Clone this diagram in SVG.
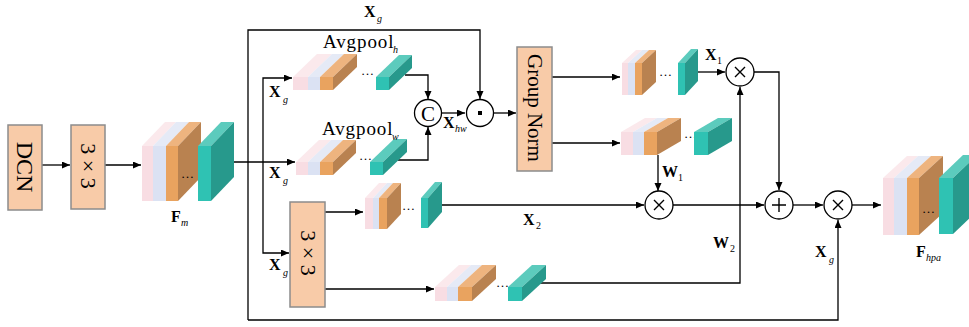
<svg xmlns="http://www.w3.org/2000/svg" width="969" height="327" viewBox="0 0 969 327">
<defs>
<marker id="ah" markerUnits="userSpaceOnUse" markerWidth="9" markerHeight="8" refX="8" refY="3.5" orient="auto">
<path d="M0,0 L8,3.5 L0,7 z" fill="#000"/>
</marker>
<style>
.pf{fill:#f8dde3}.pt{fill:#fbe9ec}
.bf{fill:#dbe2f3}.bt{fill:#e5eaf6}
.of{fill:#e9a35f}.ot{fill:#eeb47f}
.br{fill:#b98250}
.tf{fill:#2fc2b3}.tt{fill:#5ccbbd}.ts{fill:#27998c}
.box{fill:#f8cba8;stroke:#8c8c8c;stroke-width:1.5}
.ln{fill:none;stroke:#000;stroke-width:1.3}
.ar{fill:none;stroke:#000;stroke-width:1.3;marker-end:url(#ah)}
.op{fill:#fff;stroke:#000;stroke-width:1.3}
.sym{fill:none;stroke:#000;stroke-width:1.4}
.t{font-family:"Liberation Serif","Times New Roman",serif;fill:#000}
.b{font-weight:bold;font-size:16px}
.s{font-style:italic;font-size:10px}
.n{font-size:10px}
.ap{font-size:19px;letter-spacing:0.9px}
.dots{font-family:"Liberation Serif",serif;font-size:13px;fill:#000}
</style>
</defs>

<g id="connectors">
<path class="ar" d="M42,165 H70"/>
<path class="ar" d="M105,165 H141"/>
<path class="ar" d="M234,162 H295"/>
<path class="ar" d="M248,320 V30 H480 V99"/>
<path class="ar" d="M248,320 H838 V220"/>
<path class="ar" d="M263,162 V78 H292"/>
<path class="ar" d="M263,162 V253 H289"/>
<path class="ar" d="M405,75 H428 V99"/>
<path class="ar" d="M398,160 H428 V127"/>
<path class="ar" d="M441,113 H465"/>
<path class="ar" d="M493,113 H516"/>
<path class="ar" d="M552,77 H620"/>
<path class="ar" d="M552,143 H620"/>
<path class="ar" d="M698,72 H725"/>
<path class="ar" d="M658,155 V191"/>
<path class="ar" d="M442,205 H644"/>
<path class="ar" d="M673,205 H764"/>
<path class="ar" d="M754,72 H779 V190"/>
<path class="ar" d="M538,283 H740 V87"/>
<path class="ar" d="M793,205 H823"/>
<path class="ar" d="M852,205 H881"/>
<path class="ar" d="M325,212 H363"/>
<path class="ar" d="M325,289 H434"/>
</g>

<g id="dcn">
<rect class="box" x="8" y="125" width="34" height="85"/>
<text class="t" font-size="24" text-anchor="middle" transform="translate(25,167) rotate(90)" dy="8">DCN</text>
</g>

<g id="conv1">
<rect class="box" x="71" y="125" width="34" height="84"/>
<text class="t" font-size="22" text-anchor="middle" transform="translate(88,166) rotate(90)" dy="7">3 × 3</text>
</g>

<g id="fm">
<rect class="pf" x="142" y="146" width="11" height="55"/>
<rect class="bf" x="153" y="146" width="13" height="55"/>
<rect class="of" x="166" y="146" width="12" height="55"/>
<polygon class="pt" points="142,146 165,122 176,122 153,146"/>
<polygon class="bt" points="153,146 176,122 189,122 166,146"/>
<polygon class="ot" points="166,146 189,122 201,122 178,146"/>
<polygon class="br" points="178,146 201,122 201,177 178,201"/>
<rect class="tf" x="198" y="146" width="13" height="55"/>
<polygon class="tt" points="198,146 221,122 234,122 211,146"/>
<polygon class="ts" points="211,146 234,122 234,177 211,201"/>
<text class="dots" x="181" y="178">…</text>
<text class="t b" x="171" y="222">F</text><text class="t s" x="181" y="226">m</text>
</g>

<g id="avgpool-h">
<rect class="pf" x="293" y="77" width="15" height="13"/>
<rect class="bf" x="308" y="77" width="12" height="13"/>
<rect class="of" x="320" y="77" width="13" height="13"/>
<polygon class="pt" points="293,77 317,54 332,54 308,77"/>
<polygon class="bt" points="308,77 332,54 344,54 320,77"/>
<polygon class="ot" points="320,77 344,54 357,54 333,77"/>
<polygon class="br" points="333,77 357,54 357,67 333,90"/>
<text class="dots" x="361" y="75">…</text>
<rect class="tf" x="376" y="77" width="13" height="13"/>
<polygon class="tt" points="376,77 399,55 412,55 389,77"/>
<polygon class="ts" points="389,77 412,55 412,68 389,90"/>
<text class="t ap" x="323" y="48">Avgpool</text><text class="t s" x="393" y="53">h</text>
<text class="t b" x="269" y="97">X</text><text class="t s" x="283" y="103">g</text>
</g>

<g id="avgpool-w">
<rect class="pf" x="296" y="162" width="12" height="13"/>
<rect class="bf" x="308" y="162" width="12" height="13"/>
<rect class="of" x="320" y="162" width="13" height="13"/>
<polygon class="pt" points="296,162 319,140 331,140 308,162"/>
<polygon class="bt" points="308,162 331,140 343,140 320,162"/>
<polygon class="ot" points="320,162 343,140 356,140 333,162"/>
<polygon class="br" points="333,162 356,140 356,153 333,175"/>
<text class="dots" x="359" y="160">…</text>
<rect class="tf" x="370" y="162" width="13" height="13"/>
<polygon class="tt" points="370,162 394,139 407,139 383,162"/>
<polygon class="ts" points="383,162 407,139 407,152 383,175"/>
<text class="t ap" x="322" y="135">Avgpool</text><text class="t s" x="392" y="140">w</text>
<text class="t b" x="269" y="178">X</text><text class="t s" x="283" y="184">g</text>
</g>

<g id="concat">
<circle class="op" cx="428" cy="113" r="13.5"/>
<text class="t" font-size="21" text-anchor="middle" x="428" y="120.5">C</text>
<text class="t b" x="443" y="128">X</text><text class="t s" x="455" y="132">hw</text>
</g>

<g id="dot-op">
<circle class="op" cx="480" cy="113" r="13.5"/>
<rect x="478" y="111" width="4" height="4" fill="#000"/>
<text class="t b" x="364" y="17">X</text><text class="t s" x="377" y="22">g</text>
</g>

<g id="groupnorm">
<rect class="box" x="517" y="47" width="35" height="124"/>
<text class="t" font-size="21" text-anchor="middle" transform="translate(534.5,108) rotate(90)" dy="7">Group Norm</text>
</g>

<g id="x1-block">
<rect class="pf" x="622" y="63" width="6" height="32"/>
<rect class="bf" x="628" y="63" width="7" height="32"/>
<rect class="of" x="635" y="63" width="7" height="32"/>
<polygon class="pt" points="622,63 636,50 642,50 628,63"/>
<polygon class="bt" points="628,63 642,50 649,50 635,63"/>
<polygon class="ot" points="635,63 649,50 656,50 642,63"/>
<polygon class="br" points="642,63 656,50 656,82 642,95"/>
<text class="dots" x="659" y="76">…</text>
<rect class="tf" x="678" y="63" width="7" height="32"/>
<polygon class="tt" points="678,63 691,49 698,49 685,63"/>
<polygon class="ts" points="685,63 698,49 698,81 685,95"/>
<text class="t b" x="705" y="60">X</text><text class="t n" x="717" y="64">1</text>
</g>

<g id="w1-block">
<rect class="pf" x="621" y="132" width="12" height="23"/>
<rect class="bf" x="633" y="132" width="11" height="23"/>
<rect class="of" x="644" y="132" width="13" height="23"/>
<polygon class="pt" points="621,132 645,118 657,118 633,132"/>
<polygon class="bt" points="633,132 657,118 668,118 644,132"/>
<polygon class="ot" points="644,132 668,118 681,118 657,132"/>
<polygon class="br" points="657,132 681,118 681,141 657,155"/>
<text class="dots" x="684" y="138">…</text>
<rect class="tf" x="694" y="132" width="14" height="23"/>
<polygon class="tt" points="694,132 718,118 732,118 708,132"/>
<polygon class="ts" points="708,132 732,118 732,141 708,155"/>
<text class="t b" x="662" y="177">W</text><text class="t n" x="678" y="181">1</text>
</g>

<g id="mul1">
<circle class="op" cx="740" cy="72" r="14"/>
<path class="sym" d="M735,67 L745,77 M745,67 L735,77"/>
</g>

<g id="mul-w1">
<circle class="op" cx="659" cy="205" r="14"/>
<path class="sym" d="M654,200 L664,210 M664,200 L654,210"/>
</g>

<g id="add">
<circle class="op" cx="779" cy="205" r="14"/>
<path class="sym" d="M779,198 V212 M772,205 H786"/>
</g>

<g id="mul-g">
<circle class="op" cx="838" cy="205" r="14"/>
<path class="sym" d="M833,200 L843,210 M843,200 L833,210"/>
<text class="t b" x="815" y="257">X</text><text class="t s" x="829" y="263">g</text>
</g>

<g id="conv2">
<rect class="box" x="290" y="202" width="35" height="105"/>
<text class="t" font-size="22" text-anchor="middle" transform="translate(307.5,253) rotate(90)" dy="7">3 × 3</text>
<text class="t b" x="269" y="270">X</text><text class="t s" x="283" y="276">g</text>
</g>

<g id="x2-block">
<rect class="pf" x="365" y="198" width="8" height="31"/>
<rect class="bf" x="373" y="198" width="6" height="31"/>
<rect class="of" x="379" y="198" width="8" height="31"/>
<polygon class="pt" points="365,198 379,183 387,183 373,198"/>
<polygon class="bt" points="373,198 387,183 393,183 379,198"/>
<polygon class="ot" points="379,198 393,183 401,183 387,198"/>
<polygon class="br" points="387,198 401,183 401,214 387,229"/>
<text class="dots" x="402" y="210">…</text>
<rect class="tf" x="421" y="198" width="7" height="30"/>
<polygon class="tt" points="421,198 435,182 442,182 428,198"/>
<polygon class="ts" points="428,198 442,182 442,212 428,228"/>
<text class="t b" x="523" y="225">X</text><text class="t n" x="536" y="229">2</text>
</g>

<g id="w2-block">
<rect class="pf" x="435" y="287" width="12" height="14"/>
<rect class="bf" x="447" y="287" width="11" height="14"/>
<rect class="of" x="458" y="287" width="14" height="14"/>
<polygon class="pt" points="435,287 459,265 471,265 447,287"/>
<polygon class="bt" points="447,287 471,265 482,265 458,287"/>
<polygon class="ot" points="458,287 482,265 496,265 472,287"/>
<polygon class="br" points="472,287 496,265 496,279 472,301"/>
<text class="dots" x="496" y="287">…</text>
<rect class="tf" x="508" y="287" width="14" height="14"/>
<polygon class="tt" points="508,287 532,265 546,265 522,287"/>
<polygon class="ts" points="522,287 546,265 546,279 522,301"/>
<text class="t b" x="713" y="248">W</text><text class="t n" x="730" y="252">2</text>
</g>

<g id="fhpa">
<rect class="pf" x="883" y="178" width="11" height="57"/>
<rect class="bf" x="894" y="178" width="13" height="57"/>
<rect class="of" x="907" y="178" width="12" height="57"/>
<polygon class="pt" points="883,178 907,156 918,156 894,178"/>
<polygon class="bt" points="894,178 918,156 931,156 907,178"/>
<polygon class="ot" points="907,178 931,156 943,156 919,178"/>
<polygon class="br" points="919,178 943,156 943,213 919,235"/>
<text class="dots" x="922" y="213">…</text>
<rect class="tf" x="939" y="178" width="14" height="56"/>
<polygon class="tt" points="939,178 963,155 977,155 953,178"/>
<polygon class="ts" points="953,178 977,155 977,211 953,234"/>
<text class="t b" x="916" y="257">F</text><text class="t s" x="926" y="261">hpa</text>
</g>
</svg>
